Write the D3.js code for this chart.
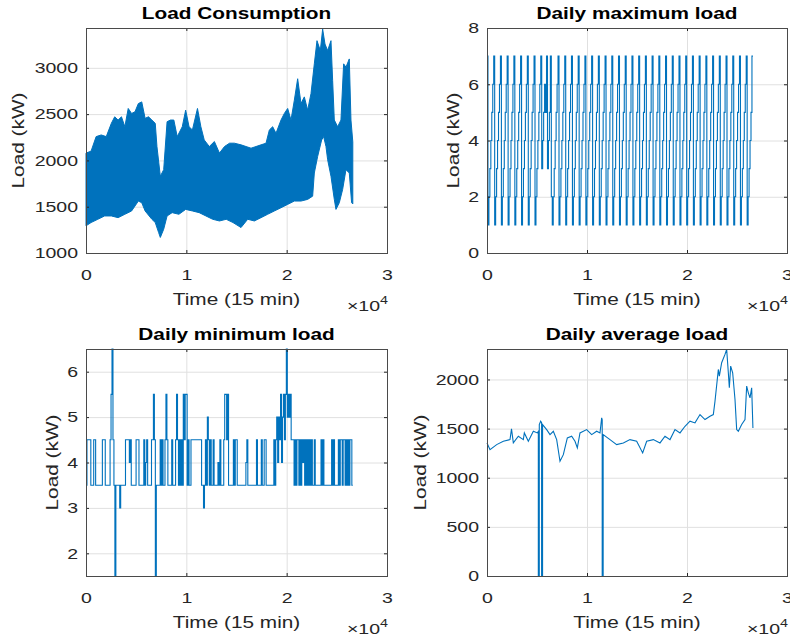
<!DOCTYPE html>
<html>
<head>
<meta charset="UTF-8">
<style>
  body { margin: 0; background: #fff; }
  svg { display: block; font-family: "Liberation Sans", Arial, Helvetica, sans-serif; }
  .tick-label { font-size: 15px; fill: #262626; }
  .axis-label { font-size: 16px; fill: #262626; }
  .title { font-size: 16px; font-weight: bold; fill: #000; }
</style>
</head>
<body>
<svg width="790" height="641"></svg>
<script src="https://d3js.org/d3.v7.min.js"></script>
<script>

// x axis: 15-min sample index, labelled in units of 1e4
const timeTicks = [0, 10000, 20000, 30000];
const timeTickLabels = ["0", "1", "2", "3"];
const samplesPerDay = 96;

// Load consumption: upper / lower envelope of the dense 15-min trace
const consUpperTime = [0, 505, 1010, 1515, 2020, 2525, 2862, 3199, 3535, 3872, 4209, 4545, 4882, 5219, 5556, 5892, 6229, 6566, 6902, 7071,
  7407, 7744, 8081, 8418, 8754, 9091, 9596, 9933, 10269, 10606, 11111, 11448, 11785, 12290, 12795, 13300, 13805, 14310, 14788, 15451,
  15950, 16448, 16946, 17444, 17942, 18274, 18606, 18938, 19436, 19768, 20100, 20432, 20764, 21096, 21428, 21760, 22092, 22424, 22756, 23022,
  23354, 23586, 23818, 24084, 24416, 24582, 24748, 25080, 25412, 25677, 25910, 26242, 26408, 26592];
const consUpperLoad = [2079, 2100, 2257, 2275, 2257, 2400, 2471, 2436, 2471, 2364, 2561, 2507, 2525, 2614, 2632, 2454, 2471, 2436, 2400, 2150,
  1829, 1900, 2418, 2436, 2436, 2257, 2364, 2543, 2364, 2329, 2561, 2364, 2221, 2150, 2204, 2079, 2150, 2186, 2186, 2168,
  2150, 2132, 2150, 2168, 2186, 2329, 2364, 2293, 2436, 2507, 2561, 2436, 2650, 2882, 2614, 2686, 2543, 2721, 3043, 3293,
  3186, 3418, 3257, 3186, 3293, 2864, 2436, 2364, 2436, 3043, 3007, 3096, 2436, 2200];
const consLowerTime = [0, 505, 1178, 1852, 2525, 3199, 3872, 4545, 5219, 5556, 5892, 6566, 6902, 7239, 7407, 7744, 8081, 8586, 9259, 9933,
  10606, 11279, 11953, 12626, 13300, 13973, 14646, 15451, 16116, 16780, 17444, 18108, 18772, 19436, 20100, 20764, 21428, 22092, 22590, 22756,
  23088, 23486, 23686, 23918, 24084, 24416, 24748, 24914, 25246, 25578, 25910, 26242, 26474, 26592];
const consLowerLoad = [1293, 1329, 1364, 1400, 1400, 1382, 1418, 1454, 1561, 1543, 1454, 1364, 1329, 1221, 1168, 1257, 1400, 1436, 1418, 1471,
  1454, 1436, 1400, 1364, 1346, 1364, 1329, 1275, 1364, 1346, 1382, 1418, 1454, 1489, 1525, 1561, 1561, 1579, 1614, 1864,
  2043, 2221, 2257, 2150, 2007, 1829, 1579, 1471, 1543, 1686, 1900, 1864, 1543, 1530];
const consTicks = [1000, 1500, 2000, 2500, 3000];

// Daily maximum load, one value per day (held for 96 samples)
const maxLoadDaily = [
  7, 1, 2, 3, 4, 5, 6,  7, 1, 2, 3, 4, 5, 6,  7, 1, 2, 3, 4, 5, 6,  7, 1, 2, 3, 4, 5, 6,
  7, 1, 2, 3, 4, 5, 6,  7, 1, 2, 3, 4, 5, 6,  7, 1, 2, 3, 4, 5, 6,  7, 1, 2, 3, 4, 5, 6,
  7, 3, 4, 5, 6, 5, 7, 3, 4, 5, 7, 2, 1, 2, 3, 4, 5, 6, 7,
  1, 2, 3, 4, 5, 6, 7,  1, 2, 3, 4, 5, 6, 7,  1, 2, 3, 4, 5, 6, 7,  1, 2, 3, 4, 5, 6, 7,
  1, 2, 3, 4, 5, 6, 7,  1, 2, 3, 4, 5, 6, 7,  1, 2, 3, 4, 5, 6, 7,  1, 2, 3, 4, 5, 6, 7,
  1, 2, 3, 4, 5, 6, 7,  1, 2, 3, 4, 5, 6, 7,  1, 2, 3, 4, 5, 6, 7,  1, 2, 3, 4, 5, 6, 7,
  1, 2, 3, 4, 5, 6, 7,  1, 2, 3, 4, 5, 6, 7,  1, 2, 3, 4, 5, 6, 7,  1, 2, 3, 4, 5, 6, 7,
  1, 2, 3, 4, 5, 6, 7,  1, 2, 3, 4, 5, 6, 7,  1, 2, 3, 4, 5, 6, 7,  1, 2, 3, 4, 5, 6, 7,
  1, 2, 3, 4, 5, 6, 7,  1, 2, 3, 4, 5, 6, 7,  1, 2, 3, 4, 5, 6, 7,  1, 2, 3, 4, 5, 6, 7,
  1, 2, 3, 4, 5, 6, 7,  1, 2, 3, 4, 5, 6, 7,  1, 2, 3, 4, 5, 6, 7,  1, 2, 3, 4, 5, 6, 7,
  1, 2, 3, 4, 5, 7];
const maxTicks = [0, 2, 4, 6, 8];

// Daily minimum load
const minLoadDaily = [
  3.5, 4.5, 4.5, 4.5, 4.5, 3.5, 3.5, 3.5, 4.5, 4.5,
  3.5, 3.5, 3.5, 3.5, 3.5, 3.5, 3.5, 4.5, 4.5, 4.5,
  3.5, 3.5, 3.5, 3.5, 3.5, 4.5, 5.5, 6.5, 4.5, 3.5,
  1.5, 3.5, 3.5, 3.5, 3.5, 3, 3.5, 3.5, 3.5, 3.5,
  3.5, 4.5, 4.5, 4.5, 4.5, 4, 4.5, 3.5, 3.5, 3.5,
  3.5, 3.5, 4.5, 4.5, 4.5, 3.5, 3.5, 3.5, 3.5, 3.5,
  4.5, 3.5, 4, 4.5, 3.5, 3.5, 3.5, 3.5, 4.5, 4.5,
  5.5, 4.5, 1.5, 3.5, 3.5, 3.5, 3.5, 4.5, 3.5, 4.5,
  3.5, 3.5, 4.5, 5.5, 4.5, 3.5, 3.5, 3.5, 3.5, 4.5,
  3.5, 3.5, 3.5, 4.5, 5.5, 4.5, 3.5, 4.5, 3.5, 4.5,
  3.5, 5.5, 4.5, 5.5, 5.5, 3.5, 4.5, 3.5, 3.5, 4.5,
  4.5, 4.5, 4.5, 4.5, 4.5, 4.5, 4.5, 4.5, 4.5, 4.5,
  3.5, 3.5, 3, 3.5, 4.5, 3.5, 5, 4.5, 3.5, 4.5,
  3.5, 3.5, 4.5, 3.5, 3.5, 3.5, 3.5, 4, 3.5, 4.5,
  3.5, 3.5, 3.5, 4.5, 5.5, 5.5, 4.5, 5.5, 3.5, 3.5,
  3.5, 3.5, 3.5, 4.5, 3.5, 4.5, 4.5, 3.5, 3.5, 3.5,
  3.5, 3.5, 3.5, 3.5, 3.5, 3.5, 4, 4.5, 3.5, 3.5,
  3.5, 3.5, 3.5, 3.5, 3.5, 3.5, 3.5, 4.5, 3.5, 3.5,
  3.5, 3.5, 4.5, 3.5, 3.5, 4.5, 4.5, 3.5, 3.5, 3.5,
  3.5, 3.5, 3.5, 3.5, 3.5, 4.5, 3.5, 4.5, 5, 4,
  5, 4.5, 5.5, 4, 5, 5.5, 4.5, 5.5, 6.5, 5,
  5.5, 5, 5.5, 4.5, 4.5, 4.5, 3.5, 4.5, 3.5, 4.5,
  4.5, 3.5, 4.5, 3.5, 4.5, 4, 4.5, 3.5, 4.5, 3.5,
  4.5, 3.5, 4.5, 3.5, 4.5, 3.5, 3.5, 4.5, 3.5, 3.5,
  3.5, 3.5, 3.5, 3.5, 4.5, 3.5, 4.5, 3.5, 3.5, 3.5,
  3.5, 3.5, 3.5, 3.5, 3.5, 4.5, 3.5, 4.5, 3.5, 3.5,
  3.5, 3.5, 4.5, 3.5, 4.5, 4.5, 3.5, 4.5, 4.5, 3.5,
  4.5, 3.5, 4.5, 3.5, 4.5, 4.5, 3.5];
const minTicks = [2, 3, 4, 5, 6];

// Daily average load (sample index, kW)
const avgTime = [0, 300, 967, 1633, 2300, 2450, 2633, 3133, 3633, 3733, 4133, 4633, 5033, 5133, 5133, 5229, 5229, 5367, 5460, 5460,
  5556, 5556, 5967, 6300, 6633, 6967, 7300, 7633, 8033, 8467, 8800, 9033, 9300, 9967, 10467, 10967, 11300, 11467, 11520, 11520,
  11616, 11616, 12300, 12967, 13633, 14300, 14967, 15567, 15967, 16633, 17300, 17800, 18300, 18800, 19300, 19800, 20300, 20800, 21300, 21800,
  22300, 22633, 22800, 23133, 23233, 23467, 23800, 23967, 24133, 24233, 24367, 24567, 24800, 24967, 25133, 25467, 25800, 25967, 26133, 26300,
  26467, 26592];
const avgLoad = [1354, 1286, 1337, 1371, 1388, 1497, 1354, 1422, 1388, 1456, 1371, 1473, 1456, 1470, 0, 0, 1540, 1575, 1560, 0,
  0, 1541, 1490, 1439, 1473, 1388, 1167, 1235, 1405, 1422, 1371, 1303, 1456, 1490, 1439, 1473, 1456, 1609, 1590, 0,
  0, 1440, 1388, 1337, 1354, 1388, 1371, 1252, 1371, 1388, 1354, 1422, 1388, 1490, 1456, 1524, 1575, 1558, 1643, 1592,
  1626, 1643, 1779, 2102, 2034, 2170, 2255, 2306, 2068, 1915, 2136, 2068, 1796, 1490, 1473, 1541, 1592, 1932, 1864, 1813,
  1915, 1507];
const avgTicks = [0, 500, 1000, 1500, 2000];

const STRETCH = 1.3;   // the figure's fonts are rendered wide
const BLUE = "#0072BD";

let svg = d3.select("svg");

function styleAxis(sel) {
  sel.attr("font-family", null).attr("font-size", null).attr("color", "#262626");
  sel.select(".domain").remove();
  sel.selectAll("text").attr("class", "tick-label").attr("transform", `scale(${STRETCH},1)`);
}

function makePanel(box, yDomain, yTicks, title, yLabelGap) {
  let x = d3.scaleLinear().domain([0, 30000]).range([box.left, box.right]);
  let y = d3.scaleLinear().domain(yDomain).range([box.bottom, box.top]);
  let g = svg.append("g");

  // grid behind the data
  let grid = g.append("g").attr("stroke", "#e0e0e0").attr("stroke-width", 1);
  grid.selectAll(".gx").data(timeTicks.slice(1, -1)).join("line")
    .attr("x1", d => x(d) + 0.5).attr("x2", d => x(d) + 0.5)
    .attr("y1", box.top).attr("y2", box.bottom);
  grid.selectAll(".gy").data(yTicks).join("line")
    .attr("y1", d => y(d) + 0.5).attr("y2", d => y(d) + 0.5)
    .attr("x1", box.left).attr("x2", box.right);

  let data = g.append("g");
  let frame = g.append("g");

  frame.append("g").attr("transform", `translate(0,${box.bottom})`)
    .call(d3.axisBottom(x).tickValues(timeTicks).tickFormat((d, i) => timeTickLabels[i])
      .tickSizeInner(-3).tickSizeOuter(0).tickPadding(16))
    .call(styleAxis);
  frame.append("g").attr("transform", `translate(0,${box.top})`)
    .call(d3.axisTop(x).tickValues(timeTicks).tickFormat("").tickSizeInner(-3).tickSizeOuter(0))
    .call(styleAxis);
  frame.append("g").attr("transform", `translate(${box.left},0)`)
    .call(d3.axisLeft(y).tickValues(yTicks).tickFormat(d => String(d))
      .tickSizeInner(-3).tickSizeOuter(0).tickPadding(8 / STRETCH))
    .call(styleAxis);
  frame.append("g").attr("transform", `translate(${box.right},0)`)
    .call(d3.axisRight(y).tickValues(yTicks).tickFormat("").tickSizeInner(-3).tickSizeOuter(0))
    .call(styleAxis);

  frame.append("rect")
    .attr("x", box.left + 0.5).attr("y", box.top + 0.5)
    .attr("width", box.right - box.left).attr("height", box.bottom - box.top)
    .attr("fill", "none").attr("stroke", "#4a4a4a").attr("stroke-width", 1);

  let cx = (box.left + box.right) / 2;
  g.append("text").attr("class", "title").attr("text-anchor", "middle")
    .attr("transform", `translate(${cx},${box.top - 9}) scale(${STRETCH},1)`)
    .text(title);
  g.append("text").attr("class", "axis-label").attr("text-anchor", "middle")
    .attr("transform", `translate(${cx},${box.bottom + 52}) scale(${STRETCH},1)`)
    .text("Time (15 min)");
  g.append("text").attr("class", "axis-label").attr("text-anchor", "middle")
    .attr("transform", `translate(${box.left - yLabelGap},${(box.top + box.bottom) / 2}) rotate(-90) scale(${STRETCH},1)`)
    .text("Load (kW)");

  let ex = g.append("text").attr("class", "tick-label").attr("text-anchor", "end")
    .attr("transform", `translate(${Math.min(box.right + 1, 789)},${box.bottom + 58}) scale(${STRETCH},1)`);
  ex.append("tspan").text("\u00d710");
  ex.append("tspan").attr("font-size", 11).attr("dy", -7).text("4");

  return {x, y, data};
}

function dailySteps(values) {
  let pts = values.map((v, i) => [i * samplesPerDay, v]);
  pts.push([values.length * samplesPerDay, values[values.length - 1]]);
  return pts;
}

// Load Consumption
let cons = makePanel({left: 86, right: 387, top: 28, bottom: 253}, [1000, 3430], consTicks, "Load Consumption", 62);
let consOutline = consUpperTime.map((t, i) => [t, consUpperLoad[i]])
  .concat(consLowerTime.map((t, i) => [t, consLowerLoad[i]]).reverse());
cons.data.append("path")
  .datum(consOutline)
  .attr("d", d => d3.line().x(p => cons.x(p[0])).y(p => cons.y(p[1]))(d) + "Z")
  .attr("fill", BLUE).attr("stroke", BLUE).attr("stroke-width", 1).attr("stroke-linejoin", "round");

// Daily maximum load
let maxP = makePanel({left: 487, right: 787, top: 28, bottom: 253}, [0, 8], maxTicks, "Daily maximum load", 28);
maxP.data.append("path")
  .datum(dailySteps(maxLoadDaily))
  .attr("d", d3.line().curve(d3.curveStepAfter).x(p => maxP.x(p[0])).y(p => maxP.y(p[1])))
  .attr("fill", "none").attr("stroke", BLUE).attr("stroke-width", 1.1);

// Daily minimum load
let minP = makePanel({left: 86, right: 387, top: 349, bottom: 576}, [1.5, 6.5], minTicks, "Daily minimum load", 28);
minP.data.append("path")
  .datum(dailySteps(minLoadDaily))
  .attr("d", d3.line().curve(d3.curveStepAfter).x(p => minP.x(p[0])).y(p => minP.y(p[1])))
  .attr("fill", "none").attr("stroke", BLUE).attr("stroke-width", 1.1);

// Daily average load
let avgP = makePanel({left: 487, right: 787, top: 349, bottom: 576}, [0, 2310], avgTicks, "Daily average load", 61);
avgP.data.append("path")
  .datum(avgTime.map((t, i) => [t, avgLoad[i]]))
  .attr("d", d3.line().x(p => avgP.x(p[0])).y(p => avgP.y(p[1])))
  .attr("fill", "none").attr("stroke", BLUE).attr("stroke-width", 1.1);

</script>
</body>
</html>
